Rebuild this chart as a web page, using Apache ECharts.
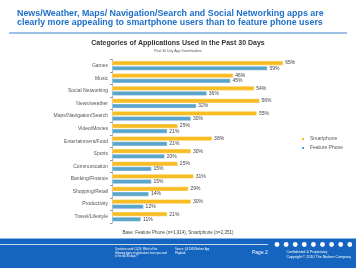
<!DOCTYPE html>
<html><head><meta charset="utf-8">
<script src="https://cdn.jsdelivr.net/npm/echarts@6/dist/echarts.min.js"></script>
<style>html,body{margin:0;padding:0;background:#fff}#c{width:356px;height:268px}</style>
</head><body><div id="c"></div>
<script>
const categories = ['Games','Music','Social Networking','News/weather','Maps/Navigation/Search','Video/Movies','Entertainment/Food','Sports','Communication','Banking/Finance','Shopping/Retail','Productivity','Travel/Lifestyle'];
const smartphone = [65,46,54,56,55,25,38,30,25,31,29,30,21];
const featurePhone = [59,45,36,32,30,21,21,20,15,15,14,12,11];
const seriesNames = ['Smartphone','Feature Phone'];

const chart = echarts.init(document.getElementById('c'), null, {renderer:'canvas'});
const F = 'Liberation Sans, Arial, sans-serif';
const lbl = {show:true, position:'right', distance:2, formatter:'{c}%', fontSize:5, color:'#444', fontFamily:F};
const dots = [];
for (let i=0;i<9;i++) dots.push({type:'circle', shape:{cx:277+i*9.1, cy:244.5, r:2.4}, style:{fill:'#fff'}, silent:true});
chart.setOption({
  animation:false,
  textStyle:{fontFamily:F},
  grid:{left:112, top:59.4, width:184.4, height:163.6, containLabel:false},
  xAxis:{type:'value', min:0, max:70, show:false},
  yAxis:{type:'category', data:categories, inverse:true,
    axisLine:{show:true, lineStyle:{color:'#999', width:0.8}},
    axisTick:{show:true, length:2, lineStyle:{color:'#999'}},
    axisLabel:{fontSize:5, color:'#555', margin:4, fontFamily:F}},
  legend:{orient:'vertical', left:295, top:131, itemWidth:4, itemHeight:4, itemGap:3,
    textStyle:{fontSize:5, color:'#555', fontFamily:F}, icon:'rect', data:seriesNames},
  series:[
    {name:seriesNames[0], type:'bar', data:smartphone, barWidth:4.6, barGap:'12%',
     itemStyle:{color:'#F8BD22', borderColor:'#fff', borderWidth:0.4}, label:lbl},
    {name:seriesNames[1], type:'bar', data:featurePhone, barWidth:4.6,
     itemStyle:{color:'#5AA5CB', borderColor:'#fff', borderWidth:0.4}, label:lbl}
  ],
  graphic:[
    {type:'text', left:17, top:8.5, style:{text:'News/Weather, Maps/ Navigation/Search and Social Networking apps are\nclearly more appealing to smartphone users than to feature phone users', fill:'#1E6FC8', font:'bold 8.9px '+F, lineHeight:9.2}},
    {type:'rect', shape:{x:9, y:32.5, width:338, height:1}, style:{fill:'#3C82D2'}},
    {type:'text', left:'center', top:40, style:{text:'Categories of Applications Used in the Past 30 Days', fill:'#333', font:'bold 7px '+F}},
    {type:'text', left:'center', top:49.5, style:{text:'Past 30 Day App Downloaders', fill:'#555', font:'3.5px '+F}},
    {type:'text', left:'center', top:230.5, style:{text:'Base: Feature Phone (n=1,914), Smartphone (n=2,351)', fill:'#444', font:'4.5px '+F}},
    {type:'rect', shape:{x:0, y:238.5, width:356, height:29.5}, style:{fill:'#1565C0'}},
    {type:'rect', shape:{x:0, y:244, width:268, height:0.8}, style:{fill:'#fff'}},
    ...dots,
    {type:'text', left:115, top:248, style:{text:'Questions used: CQ24: Which of the\nfollowing types of applications have you used\nin the last 30 days?', fill:'#fff', font:'2.6px '+F, lineHeight:3.4}},
    {type:'text', left:175, top:248, style:{text:'Source: Q4 2009 Nielsen App\nPlaybook', fill:'#fff', font:'2.6px '+F, lineHeight:3.4}},
    {type:'text', left:252, top:250, style:{text:'Page 2', fill:'#fff', font:'5px '+F}},
    {type:'text', right:5, top:250, style:{text:'Confidential & Proprietary\nCopyright © 2010 The Nielsen Company', fill:'#fff', font:'3.6px '+F, lineHeight:4.5, align:'right'}}
  ]
});
</script></body></html>
